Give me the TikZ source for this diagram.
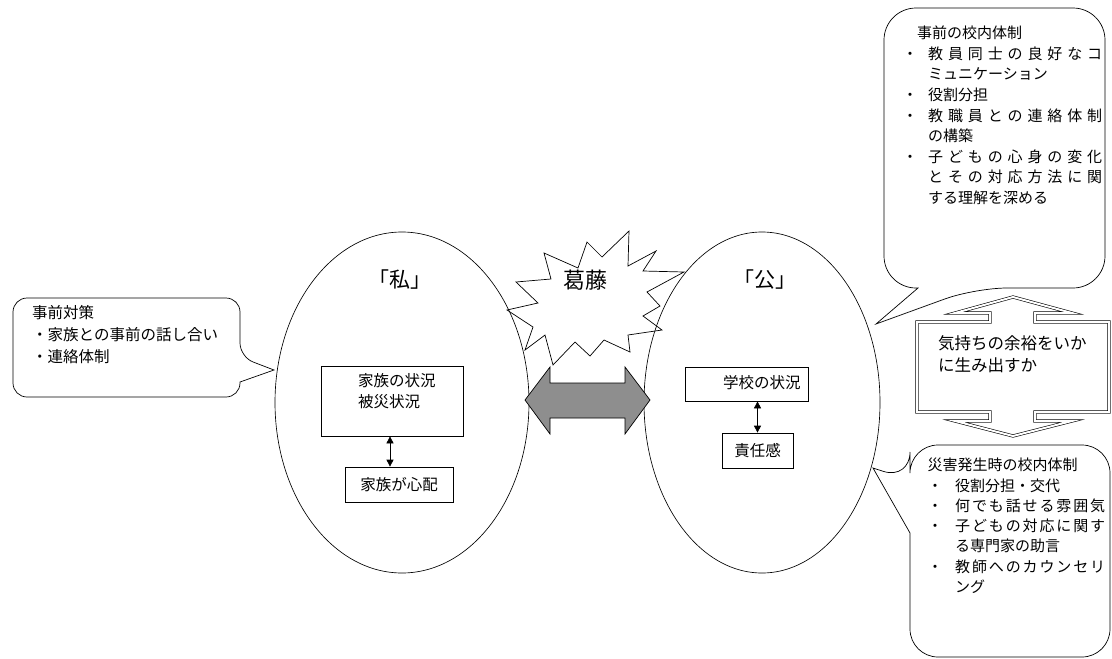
\documentclass[tikz,border=0pt]{standalone}
\usepackage{fontspec}
\setmainfont{Noto Sans CJK JP}
\usetikzlibrary{shapes.geometric,arrows.meta}
\definecolor{arrowgray}{HTML}{8E8E8E}
\def\jstloop#1{\ifx\relax#1\else#1\hfil\expandafter\jstloop\fi}
\newcommand\jst[2]{\makebox[#1][s]{\jstloop#2\relax\unskip}}
\newcommand\bul[1]{\makebox[#1][l]{・}}
\newcommand\stk[2]{\vtop{\baselineskip=#1\lineskiplimit=-100pt\lineskip=0pt\relax #2}}
\tikzset{
  ln/.style={line width=0.7pt},
  oval/.style={ellipse, draw, line width=0.65pt, inner sep=0pt},
  box/.style={draw, ln, inner sep=0pt, font=\fontsize{15.5}{18}\selectfont},
  txt/.style={inner sep=0pt, anchor=base west, font=\fontsize{15.5}{18}\selectfont},
  ctxt/.style={inner sep=0pt, anchor=base west, font=\fontsize{15}{18}\selectfont},
  lbl/.style={inner sep=0pt, font=\fontsize{21}{24}\selectfont},
  co/.style={draw, ln, fill=white},
  dbl/.style={draw, line width=0.6pt, double=white, double distance=2pt},
  dblarr/.style={ln, {Triangle[length=7pt,width=7pt]}-{Triangle[length=7pt,width=7pt]}},
}
\begin{document}
\begin{tikzpicture}[x=1pt,y=-1pt]
\useasboundingbox (0,0) rectangle (1112,659);

% ellipses
\node[oval, minimum width=254pt, minimum height=341pt] (priv) at (402,402.5) {};
\node[oval, minimum width=236pt, minimum height=341pt] (pub) at (762,402.5) {};
\node[lbl] (privlbl) at (400,280) {「私」};
\node[lbl] (publbl) at (765,280) {「公」};

% conflict burst
\draw[ln] (516,282) -- (551,279) -- (544,253) -- (578,268) -- (587,242) -- (602,257)
  -- (629,231) -- (628,266) -- (656,251) -- (643,271) -- (684,272) -- (647,292)
  -- (660,306) -- (643,316) -- (662,330) -- (628,335) -- (630,352) -- (604,340)
  -- (590,356) -- (575,342) -- (553,365) -- (545,335) -- (525,350) -- (533,327)
  -- (507,310) -- (538,303) -- cycle;
\node[inner sep=0pt, font=\fontsize{22}{26}\selectfont] (kat) at (585,280) {葛藤};

% gray double arrow
\draw[ln, fill=arrowgray] (525,400) -- (550,367) -- (550,383) -- (625,383) -- (625,367)
  -- (650,400) -- (625,434) -- (625,418) -- (550,418) -- (550,434) -- cycle;

% boxes (private)
\node[box, minimum width=142pt, minimum height=70pt] (b1) at (392,401) {};
\node[txt] (b1t) at (358,386) {\stk{21pt}{\hbox{家族の状況}\hbox{被災状況}}};
\node[box, minimum width=108pt, minimum height=35pt] (b2) at (399,484.5) {家族が心配};
\coordinate (a1) at (390,0);
\draw[dblarr] (b1.south -| a1) -- (b2.north -| a1);

% boxes (public)
\node[box, minimum width=123pt, minimum height=34pt] (b3) at (746.5,384) {};
\node[txt] (b3t) at (723,388) {学校の状況};
\node[box, minimum width=71pt, minimum height=35pt] (b4) at (757.5,450.5) {責任感};
\draw[dblarr] (b3.south -| b4.north) -- (b4.north);

% left callout
\draw[co] (240,382) [rounded corners=14pt] -- (240,397) -- (13,397) -- (13,298)
  -- (240,298) -- (240,357) [sharp corners] -- (274,370) -- cycle;
\node[inner sep=0pt, anchor=base west, font=\fontsize{15.5}{18}\selectfont] (lc) at (32,318.8)
  {\stk{22pt}{\hbox{事前対策}\hbox{・家族との事前の話し合い}\hbox{・連絡体制}}};

% top-right callout
\draw[co] (918,288) [rounded corners=32pt] -- (884,288) -- (884,8) -- (1105,8)
  -- (1105,288) -- (975,288) [sharp corners] -- (876,324) -- cycle;
\node[ctxt] (trc) at (902.5,38.7) {\stk{20.6pt}{%
  \hbox{\kern14.5pt 事前の校内体制}%
  \hbox{\bul{25.5pt}\jst{174pt}{教員同士の良好なコ}}%
  \hbox{\kern25.5pt ミュニケーション}%
  \hbox{\bul{25.5pt}役割分担}%
  \hbox{\bul{25.5pt}\jst{174pt}{教職員との連絡体制}}%
  \hbox{\kern25.5pt の構築}%
  \hbox{\bul{25.5pt}\jst{174pt}{子どもの心身の変化}}%
  \hbox{\kern25.5pt\jst{174pt}{とその対応方法に関}}%
  \hbox{\kern25.5pt する理解を深める}}};

% double-headed outline arrow
\draw[dbl, fill=white] (1013,297) -- (1072,313) -- (1035,313) -- (1035,322) -- (1109,322)
  -- (1109,412) -- (1035,412) -- (1035,421) -- (1072,421) -- (1013,436) -- (955,421)
  -- (990,421) -- (990,412) -- (917,412) -- (917,322) -- (990,322) -- (990,313)
  -- (955,313) -- cycle;
\node[inner sep=0pt, anchor=base west, font=\fontsize{16.5}{20}\selectfont] (yoyu) at (938,349.3)
  {\stk{22pt}{\hbox{気持ちの余裕をいか}\hbox{に生み出すか}}};

% bottom-right callout
\draw[co] (910,533) [rounded corners=28pt] -- (910,657) -- (1110,657) -- (1110,445)
  -- (910,445) -- (910,480) [sharp corners] -- (873,468) -- cycle;
\node[ctxt] (brc) at (927.5,470.7) {\stk{20.3pt}{%
  \hbox{災害発生時の校内体制}%
  \hbox{\bul{27.5pt}役割分担・交代}%
  \hbox{\bul{27.5pt}\jst{150pt}{何でも話せる雰囲気}}%
  \hbox{\bul{27.5pt}\jst{150pt}{子どもの対応に関す}}%
  \hbox{\kern27.5pt る専門家の助言}%
  \hbox{\bul{27.5pt}\jst{150pt}{教師へのカウンセリ}}%
  \hbox{\kern27.5pt ング}}};
\end{tikzpicture}
\end{document}
